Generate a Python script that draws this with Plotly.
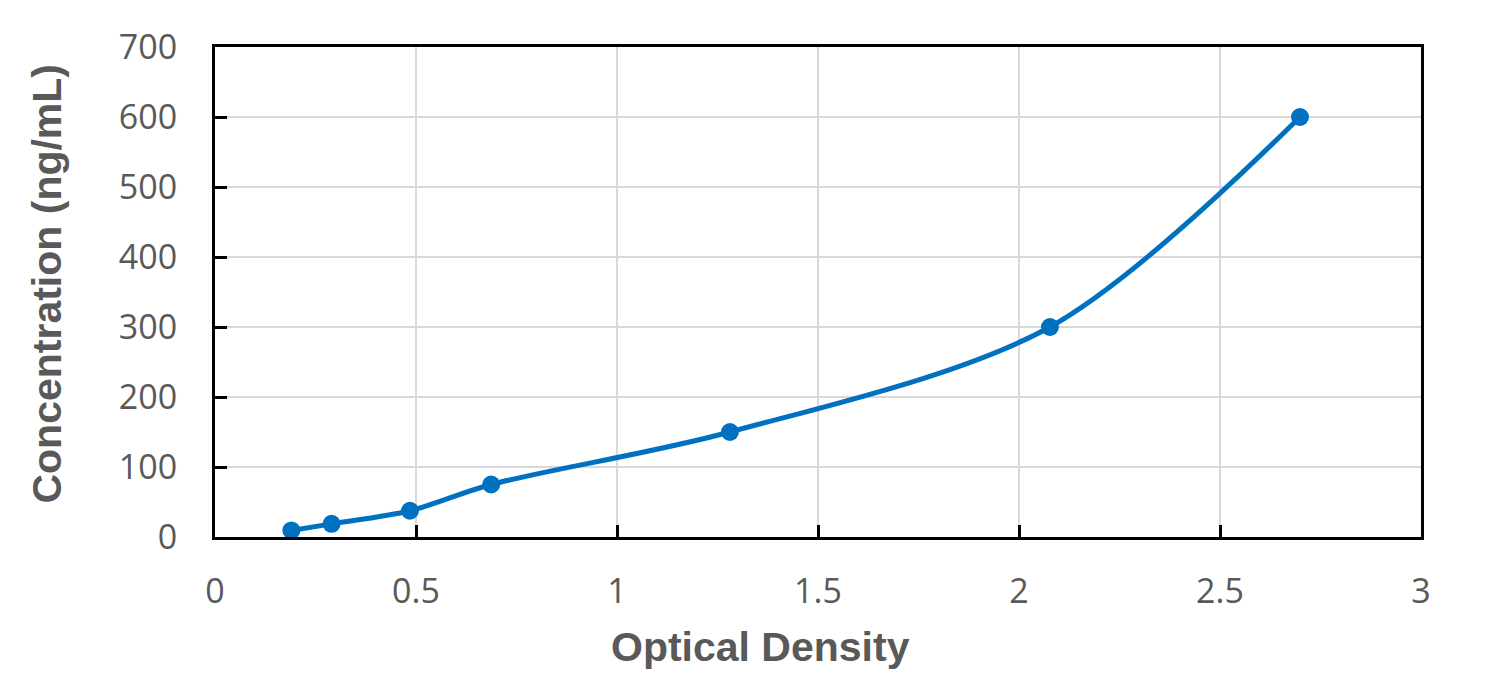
import plotly.graph_objects as go

od = [0.19, 0.29, 0.485, 0.687, 1.281, 2.077, 2.699]
conc = [9.38, 18.75, 37.5, 75, 150, 300, 600]

x_ticks = [0, 0.5, 1, 1.5, 2, 2.5, 3]
x_tick_labels = ["0", "0.5", "1", "1.5", "2", "2.5", "3"]
y_ticks = [0, 100, 200, 300, 400, 500, 600, 700]
y_tick_labels = ["0", "100", "200", "300", "400", "500", "600", "700"]

x_title = "Optical Density"
y_title = "Concentration (ng/mL)"

blue = "#0070C0"
grey_text = "#595959"

fig = go.Figure()
fig.add_trace(go.Scatter(
    x=od, y=conc, mode="lines+markers",
    line=dict(color=blue, width=5, shape="spline", smoothing=0.9),
    marker=dict(color=blue, size=18),
    showlegend=False,
))

tick_font = dict(family="Open Sans, sans-serif", size=34, color=grey_text)
title_font = dict(family="Liberation Sans, Arial, sans-serif", size=41, color=grey_text)

fig.update_layout(
    width=1503, height=692,
    margin=dict(l=215, r=82, t=47, b=155),
    paper_bgcolor="white", plot_bgcolor="white",
    xaxis=dict(
        range=[0, 3], tickvals=x_ticks, ticktext=x_tick_labels,
        showgrid=True, gridcolor="#d9d9d9", gridwidth=2,
        showline=True, linecolor="black", linewidth=3, mirror=True,
        ticks="inside", ticklen=12, tickwidth=3, tickcolor="black",
        tickfont=tick_font, ticklabelstandoff=22,
        zeroline=False,
    ),
    yaxis=dict(
        range=[0, 700], tickvals=y_ticks, ticktext=y_tick_labels,
        showgrid=True, gridcolor="#d9d9d9", gridwidth=2,
        showline=True, linecolor="black", linewidth=3, mirror=True,
        ticks="inside", ticklen=12, tickwidth=3, tickcolor="black",
        tickfont=tick_font, ticklabelstandoff=28,
        zeroline=False,
    ),
    annotations=[
        dict(text="<b>" + x_title + "</b>", xref="paper", yref="paper",
             x=0.452, y=-0.2245, xanchor="center", yanchor="middle",
             showarrow=False, font=title_font),
        dict(text="<b>" + y_title + "</b>", xref="paper", yref="paper",
             x=-0.139, y=0.518, xanchor="center", yanchor="middle",
             textangle=-90, showarrow=False, font=title_font),
    ],
)

fig.write_html("out.html")
